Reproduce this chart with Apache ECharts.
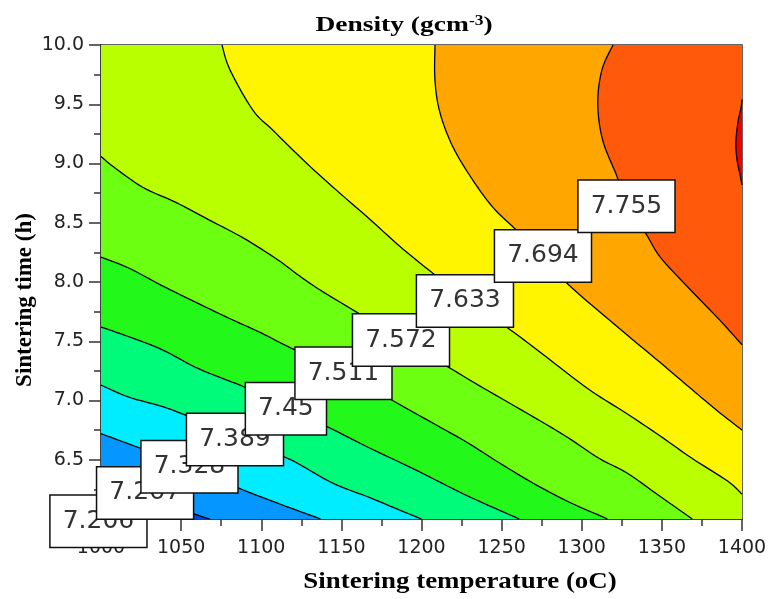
<!DOCTYPE html>
<html>
<head>
<meta charset="utf-8">
<script src="https://cdn.jsdelivr.net/npm/echarts@6/dist/echarts.min.js"></script>
<style>
  html, body { margin: 0; padding: 0; background: #fff; }
  #chart { width: 771px; height: 599px; }
</style>
</head>
<body>
<div id="chart"></div>
<script>
// Iso-density levels (g/cm^3)
const levels = [7.206, 7.267, 7.328, 7.389, 7.45, 7.511, 7.572, 7.633, 7.694, 7.755, 7.816];

// Contour lines as [sintering temperature (oC), sintering time (h)],
// each running from one plot edge to another with the denser side on its upper right.
const line7206 = [[1000, 6.10], [1014, 6.00]];
const line7267 = [[1000, 6.38], [1027, 6.22], [1057, 6.05], [1068, 6.00]];
const line7328 = [[1000, 6.72], [1024, 6.60], [1056, 6.43], [1086, 6.26], [1109, 6.14], [1137, 6.00]];
const line7389 = [[1000, 7.13], [1017, 7.03], [1038, 6.95], [1052, 6.88], [1082, 6.71], [1115, 6.52],
                  [1124, 6.46], [1145, 6.30], [1166, 6.19], [1182, 6.10], [1200, 6.00]];
const line7450 = [[1000, 7.62], [1017, 7.54], [1038, 7.43], [1059, 7.28], [1079, 7.17], [1090, 7.11],
                  [1115, 6.94], [1141, 6.78], [1166, 6.61], [1197, 6.41], [1228, 6.20], [1261, 6.00]];
const line7511 = [[1000, 8.21], [1017, 8.12], [1038, 7.97], [1059, 7.83], [1079, 7.70], [1100, 7.57],
                  [1119, 7.44], [1148, 7.27], [1182, 7.00], [1207, 6.81], [1228, 6.65], [1249, 6.47],
                  [1270, 6.30], [1291, 6.15], [1311, 6.03], [1316, 6.00]];
const line7572 = [[1000, 9.06], [1008, 8.97], [1026, 8.80], [1047, 8.67], [1068, 8.52], [1089, 8.37],
                  [1110, 8.19], [1124, 8.05], [1137, 7.93], [1159, 7.75], [1185, 7.54], [1217, 7.28],
                  [1238, 7.11], [1270, 6.86], [1291, 6.69], [1311, 6.51], [1328, 6.39], [1349, 6.19],
                  [1369, 6.00]];
const line7633 = [[1075.5, 10.00], [1080.5, 9.79], [1094.8, 9.45], [1107.3, 9.28], [1128.5, 9.00],
                  [1144.8, 8.80], [1166, 8.55], [1186.6, 8.30], [1206.5, 8.08], [1227, 7.87],
                  [1253, 7.62], [1270, 7.45], [1291, 7.23], [1307, 7.07], [1328, 6.89], [1349, 6.70],
                  [1369, 6.51], [1391, 6.32], [1400, 6.21]];
const line7694 = [[1208.4, 10.00], [1208.4, 9.70], [1211.5, 9.43], [1219.6, 9.14], [1232, 8.86],
                  [1244.6, 8.63], [1258.3, 8.45], [1277, 8.22], [1290.8, 7.99], [1325, 7.59],
                  [1349, 7.32], [1369, 7.09], [1384, 6.92], [1400, 6.75]];
const line7755 = [[1319.5, 10.00], [1312.6, 9.79], [1310, 9.51], [1313, 9.20], [1322, 8.89],
                  [1328, 8.65], [1339.5, 8.42], [1349, 8.21], [1366, 7.96], [1386, 7.68], [1400, 7.47]];
const line7816 = [[1400, 9.54], [1399.4, 9.47], [1397.5, 9.35], [1396.2, 9.18], [1396.9, 9.03],
                  [1398.7, 8.91], [1400, 8.82]];

const contourLines = [line7206, line7267, line7328, line7389, line7450, line7511,
                      line7572, line7633, line7694, line7755, line7816];

// Where each level's value tag sits on its line
const labelAnchors = [[998.4, 5.98], [1027.5, 6.22], [1055.2, 6.44], [1083.6, 6.67], [1115.4, 6.93],
                      [1151.3, 7.23], [1187.2, 7.51], [1227.1, 7.84], [1275.8, 8.22], [1327.9, 8.64]];

// Axis ranges
const tempRange = [1000, 1400];
const timeRange = [6, 10];

// Fill colours: below the lowest level, then above each level in turn
const bandColors = ['#1a2cff', '#0046e6', '#0596ff', '#00ecff', '#00fa7a', '#22f81a',
                    '#6cff12', '#b9ff00', '#fff500', '#ffa600', '#ff5a0c', '#f00000'];

const [X0, X1] = tempRange;
const [Y0, Y1] = timeRange;
const corners = [[X0, Y0], [X1, Y0], [X1, Y1], [X0, Y1]];

// Position of an edge point along the plot border, counter-clockwise from the lower-left corner
function perimeterPos(p) {
  const [x, y] = p, e = 1e-6;
  if (Math.abs(y - Y0) < e) return (x - X0) / (X1 - X0);
  if (Math.abs(x - X1) < e) return 1 + (y - Y0) / (Y1 - Y0);
  if (Math.abs(y - Y1) < e) return 2 + (X1 - x) / (X1 - X0);
  return 3 + (Y1 - y) / (Y1 - Y0);
}

// Border corners passed when walking from the line's end back to its start
function closingCorners(line) {
  const sEnd = perimeterPos(line[line.length - 1]);
  let sStart = perimeterPos(line[0]);
  if (sStart <= sEnd) sStart += 4;
  const out = [];
  for (let k = Math.floor(sEnd) + 1; k < sStart; k++) out.push(corners[k % 4]);
  return out;
}

// Smooth a pixel polyline with a Catmull-Rom spline through its vertices
function smoothPath(pts, steps) {
  if (pts.length < 3) return pts.slice();
  const out = [pts[0]];
  for (let i = 0; i < pts.length - 1; i++) {
    const p0 = pts[Math.max(i - 1, 0)], p1 = pts[i], p2 = pts[i + 1], p3 = pts[Math.min(i + 2, pts.length - 1)];
    for (let s = 1; s <= steps; s++) {
      const t = s / steps, t2 = t * t, t3 = t2 * t;
      const f = (a, b, c, d) => 0.5 * (2 * b + (-a + c) * t + (2 * a - 5 * b + 4 * c - d) * t2 + (-a + 3 * b - 3 * c + d) * t3);
      out.push([f(p0[0], p1[0], p2[0], p3[0]), f(p0[1], p1[1], p2[1], p3[1])]);
    }
  }
  return out;
}

function linePixels(api, line) {
  return smoothPath(line.map(p => api.coord(p)), 8);
}

const chart = echarts.init(document.getElementById('chart'), null, { renderer: 'canvas' });

const tickLabelStyle = { fontFamily: 'DejaVu Sans', fontSize: 19, color: '#222' };
const axisInk = { color: '#333', width: 1.5 };

chart.setOption({
  animation: false,
  backgroundColor: '#fff',
  grid: {
    left: 101, right: 29, top: 45, bottom: 80,
    show: true, backgroundColor: bandColors[0], borderColor: '#333', borderWidth: 1.5,
    outerBoundsMode: 'none'
  },
  xAxis: {
    type: 'value', min: X0, max: X1, interval: 50,
    axisLine: { show: true, onZero: false, lineStyle: axisInk },
    axisTick: { show: true, length: 12, lineStyle: axisInk },
    minorTick: { show: true, splitNumber: 2, length: 7, lineStyle: axisInk },
    splitLine: { show: false },
    axisLabel: Object.assign({ margin: 20, formatter: v => String(v) }, tickLabelStyle)
  },
  yAxis: {
    type: 'value', min: Y0, max: Y1, interval: 0.5,
    axisLine: { show: true, onZero: false, lineStyle: axisInk },
    axisTick: { show: true, length: 12, lineStyle: axisInk },
    minorTick: { show: true, splitNumber: 2, length: 7, lineStyle: axisInk },
    splitLine: { show: false },
    axisLabel: Object.assign({ margin: 17, formatter: v => v.toFixed(1) }, tickLabelStyle)
  },
  graphic: [
    {
      type: 'text', x: 404, y: 25, scaleX: 1.25, silent: true,
      style: {
        text: '{m|Density (gcm}{s|-3}{m|)}',
        align: 'center', verticalAlign: 'middle',
        rich: {
          m: { fontFamily: 'Liberation Serif', fontWeight: 'bold', fontSize: 22, fill: '#000' },
          s: { fontFamily: 'Liberation Serif', fontWeight: 'bold', fontSize: 14, fill: '#000', verticalAlign: 'top' }
        }
      }
    },
    {
      type: 'text', x: 460, y: 582, scaleX: 1.17, silent: true,
      style: {
        text: 'Sintering temperature (oC)', align: 'center', verticalAlign: 'middle',
        fontFamily: 'Liberation Serif', fontWeight: 'bold', fontSize: 23, fill: '#000'
      }
    },
    {
      type: 'text', x: 25, y: 300, rotation: Math.PI / 2, silent: true,
      style: {
        text: 'Sintering time (h)', align: 'center', verticalAlign: 'middle',
        fontFamily: 'Liberation Serif', fontWeight: 'bold', fontSize: 23, fill: '#000'
      }
    }
  ],
  series: [
    {
      name: 'bands', type: 'custom', z: 2, silent: true,
      data: contourLines.map(l => l[0]),
      renderItem(params, api) {
        const line = contourLines[params.dataIndex];
        const pts = linePixels(api, line).concat(closingCorners(line).map(p => api.coord(p)));
        return { type: 'polygon', shape: { points: pts }, style: { fill: bandColors[params.dataIndex + 1] } };
      }
    },
    {
      name: 'isolines', type: 'custom', z: 3, silent: true,
      data: contourLines.map(l => l[0]),
      renderItem(params, api) {
        const pts = linePixels(api, contourLines[params.dataIndex]);
        return { type: 'polyline', shape: { points: pts }, style: { fill: null, stroke: '#000', lineWidth: 1.3 } };
      }
    },
    {
      name: 'levelTags', type: 'custom', z: 5, silent: true, clip: false,
      data: labelAnchors,
      renderItem(params, api) {
        const c = api.coord(labelAnchors[params.dataIndex]);
        return {
          type: 'text', x: c[0], y: c[1],
          style: {
            text: String(levels[params.dataIndex]),
            align: 'center', verticalAlign: 'middle',
            fontFamily: 'DejaVu Sans', fontSize: 25, fill: '#333',
            backgroundColor: '#fff', borderColor: '#111', borderWidth: 1.5,
            padding: [13, 12]
          }
        };
      }
    }
  ]
});
</script>
</body>
</html>
